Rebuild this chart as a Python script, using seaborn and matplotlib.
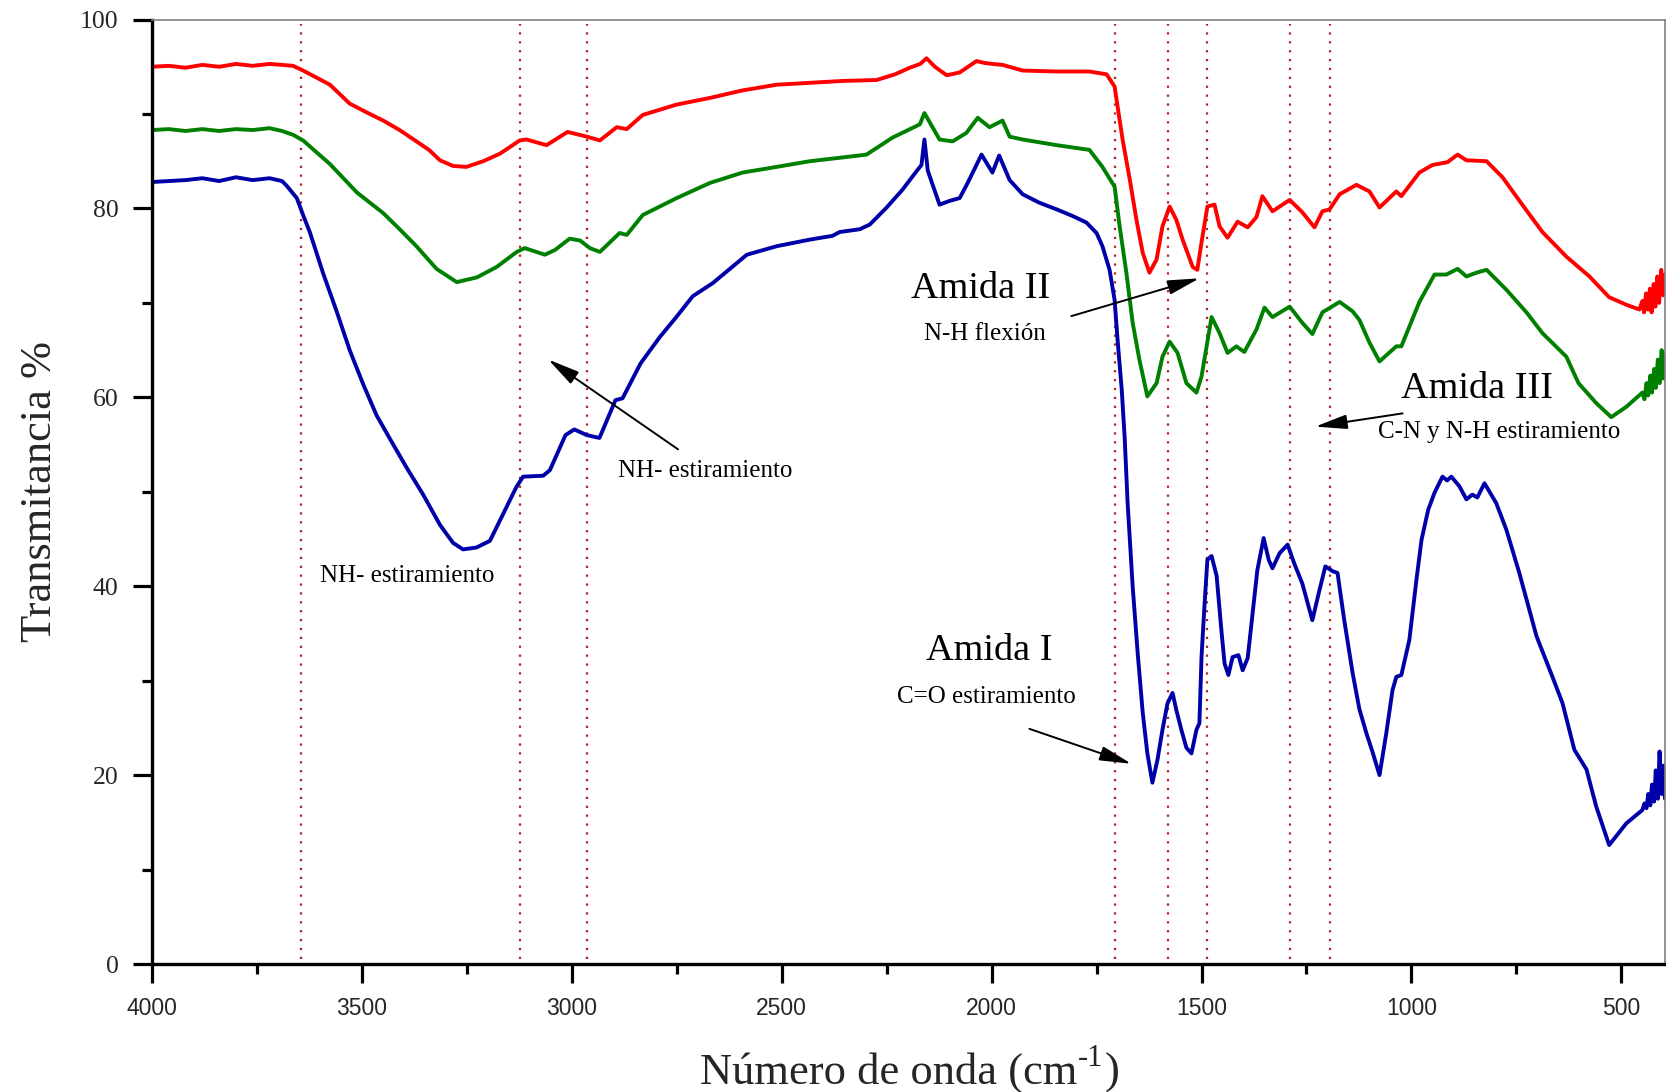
import matplotlib
matplotlib.use("Agg")
import matplotlib.pyplot as plt
import numpy as np
import pandas as pd
import seaborn as sns
from matplotlib.ticker import MultipleLocator

# ---- Espectros FTIR (número de onda en cm-1, transmitancia en %) ----
wn_rojo = [4000, 3960, 3920, 3880, 3840, 3800, 3760, 3720, 3690, 3664, 3640, 3610, 3576, 3529,
           3490, 3449, 3410, 3370, 3340, 3314, 3283, 3251, 3211, 3171, 3124, 3108, 3060, 3010,
           2964, 2933, 2893, 2869, 2831, 2750, 2671, 2593, 2512, 2433, 2355, 2274, 2230, 2195,
           2170, 2155, 2135, 2107, 2076, 2036, 2016, 1998, 1974, 1926, 1845, 1767, 1726, 1707,
           1688, 1671, 1655, 1640, 1624, 1607, 1593, 1576, 1560, 1545, 1521, 1510, 1500, 1486,
           1469, 1457, 1438, 1414, 1390, 1369, 1355, 1331, 1290, 1260, 1231, 1212, 1195, 1171,
           1131, 1100, 1076, 1036, 1024, 981, 950, 914, 890, 869, 821, 783, 736, 688, 631, 576,
           529, 488, 457, 450, 446, 441, 437, 432, 428, 423, 419, 414, 410, 405, 400, 396]
t_rojo = [95.0, 95.1, 94.9, 95.2, 95.0, 95.3, 95.1, 95.3, 95.2, 95.1, 94.6, 93.9, 93.1, 91.1,
          90.2, 89.3, 88.3, 87.1, 86.2, 85.1, 84.5, 84.4, 85.0, 85.8, 87.2, 87.3, 86.7, 88.1,
          87.6, 87.2, 88.6, 88.4, 89.9, 91.0, 91.7, 92.5, 93.1, 93.3, 93.5, 93.6, 94.2, 94.9,
          95.3, 95.9, 95.0, 94.1, 94.4, 95.6, 95.4, 95.3, 95.2, 94.6, 94.5, 94.5, 94.2, 92.9,
          87.3, 83.1, 78.8, 75.3, 73.2, 74.6, 78.1, 80.2, 78.8, 76.7, 73.8, 73.5, 76.4, 80.2,
          80.4, 78.1, 76.9, 78.6, 78.0, 79.1, 81.3, 79.7, 80.9, 79.6, 78.0, 79.7, 79.9, 81.5,
          82.5, 81.8, 80.1, 81.8, 81.3, 83.8, 84.6, 84.9, 85.7, 85.1, 85.0, 83.3, 80.4, 77.5,
          74.9, 72.8, 70.6, 69.8, 69.3, 70.2, 69.0, 71.0, 69.3, 71.5, 69.0, 72.0, 69.6, 72.8,
          70.0, 73.5, 70.8, 73.0]

wn_verde = [4000, 3960, 3920, 3880, 3840, 3800, 3760, 3720, 3690, 3664, 3640, 3576, 3512, 3449,
            3410, 3370, 3322, 3274, 3226, 3179, 3131, 3112, 3064, 3040, 3005, 2980, 2957, 2933,
            2886, 2869, 2831, 2750, 2671, 2593, 2512, 2433, 2355, 2298, 2236, 2171, 2160, 2124,
            2093, 2060, 2033, 2005, 1974, 1957, 1926, 1845, 1767, 1736, 1707, 1695, 1679, 1664,
            1648, 1629, 1607, 1593, 1576, 1557, 1536, 1512, 1500, 1476, 1457, 1438, 1417, 1398,
            1369, 1350, 1331, 1290, 1260, 1236, 1212, 1171, 1140, 1124, 1100, 1076, 1036, 1024,
            981, 945, 917, 890, 869, 845, 821, 774, 726, 688, 631, 602, 560, 524, 488, 450, 445,
            440, 436, 431, 427, 422, 418, 413, 409, 404, 400, 396]
t_verde = [88.3, 88.4, 88.2, 88.4, 88.2, 88.4, 88.3, 88.5, 88.2, 87.8, 87.2, 84.7, 81.7, 79.5,
           77.8, 76.0, 73.6, 72.2, 72.7, 73.8, 75.4, 75.8, 75.1, 75.6, 76.8, 76.6, 75.8, 75.4,
           77.4, 77.2, 79.3, 81.1, 82.7, 83.8, 84.4, 85.0, 85.4, 85.7, 87.5, 88.9, 90.1, 87.3,
           87.1, 88.0, 89.6, 88.6, 89.3, 87.6, 87.3, 86.7, 86.2, 84.4, 82.3, 78.1, 73.2, 67.9,
           64.0, 60.1, 61.5, 64.3, 65.9, 64.7, 61.5, 60.5, 62.2, 68.5, 66.8, 64.7, 65.4, 64.8,
           67.2, 69.5, 68.5, 69.6, 67.9, 66.7, 69.0, 70.1, 69.1, 68.2, 65.8, 63.8, 65.4, 65.4,
           70.1, 73.0, 73.0, 73.6, 72.8, 73.2, 73.5, 71.4, 69.0, 66.8, 64.3, 61.5, 59.4, 57.9,
           59.0, 60.5, 59.8, 61.5, 60.2, 62.3, 60.5, 63.0, 61.0, 64.0, 61.5, 65.0, 62.0, 64.5]

wn_azul = [4000, 3960, 3920, 3880, 3840, 3800, 3760, 3720, 3690, 3679, 3655, 3640, 3624, 3592,
           3560, 3529, 3497, 3465, 3433, 3394, 3354, 3314, 3283, 3259, 3227, 3195, 3164, 3132,
           3116, 3068, 3052, 3015, 2994, 2964, 2934, 2896, 2879, 2836, 2790, 2751, 2712, 2664,
           2583, 2512, 2433, 2379, 2362, 2314, 2290, 2250, 2212, 2176, 2167, 2160, 2152, 2124,
           2100, 2076, 2057, 2024, 1998, 1982, 1957, 1926, 1886, 1845, 1807, 1774, 1750, 1736,
           1719, 1707, 1700, 1690, 1683, 1676, 1664, 1652, 1640, 1629, 1617, 1605, 1593, 1581,
           1569, 1560, 1548, 1536, 1524, 1512, 1505, 1500, 1493, 1486, 1476, 1464, 1452, 1445,
           1436, 1426, 1412, 1402, 1390, 1379, 1367, 1352, 1340, 1331, 1314, 1295, 1279, 1260,
           1236, 1219, 1205, 1188, 1176, 1160, 1140, 1124, 1107, 1093, 1076, 1060, 1045, 1036,
           1024, 1005, 988, 976, 960, 945, 926, 915, 905, 886, 869, 855, 843, 826, 798, 774,
           743, 702, 664, 640, 612, 583, 560, 529, 488, 450, 445, 440, 436, 431, 427, 422, 418,
           413, 409, 404, 400, 396]
t_azul = [82.8, 82.9, 83.0, 83.2, 82.9, 83.3, 83.0, 83.2, 82.9, 82.4, 81.1, 79.3, 77.5, 73.1,
          69.1, 65.0, 61.4, 58.1, 55.6, 52.6, 49.7, 46.5, 44.6, 43.9, 44.1, 44.8, 47.6, 50.5,
          51.6, 51.7, 52.3, 56.0, 56.6, 56.0, 55.7, 59.7, 59.9, 63.6, 66.4, 68.5, 70.7, 72.1,
          75.1, 76.0, 76.7, 77.1, 77.5, 77.8, 78.3, 80.1, 82.0, 84.1, 84.6, 87.3, 84.0, 80.4,
          80.8, 81.1, 82.7, 85.7, 83.8, 85.6, 83.0, 81.5, 80.6, 79.9, 79.2, 78.5, 77.4, 76.0,
          73.5, 70.3, 66.1, 60.8, 55.7, 48.8, 40.0, 32.9, 26.6, 22.3, 19.2, 21.6, 24.8, 27.6,
          28.7, 26.9, 24.8, 22.9, 22.3, 24.8, 25.5, 32.5, 37.9, 42.8, 43.2, 41.1, 35.0, 31.8,
          30.6, 32.5, 32.7, 31.1, 32.4, 36.8, 41.7, 45.1, 42.8, 41.9, 43.5, 44.4, 42.4, 40.3,
          36.4, 39.6, 42.1, 41.6, 41.4, 36.4, 30.8, 27.0, 24.4, 22.5, 20.0, 24.4, 29.0, 30.4,
          30.6, 34.3, 40.7, 44.9, 48.1, 49.9, 51.6, 51.2, 51.6, 50.6, 49.2, 49.7, 49.4, 50.9,
          48.8, 46.0, 41.4, 34.7, 30.4, 27.6, 22.7, 20.6, 16.7, 12.6, 14.9, 16.3, 17.0, 16.5,
          18.0, 16.8, 19.0, 17.2, 20.5, 17.5, 22.5, 18.0, 21.0, 17.5]

# Bandas marcadas con líneas punteadas (cm-1)
bandas = [3645, 3124, 2964, 1705, 1579, 1486, 1290, 1195]

x_ticks = [4000, 3500, 3000, 2500, 2000, 1500, 1000, 500]
y_ticks = [0, 20, 40, 60, 80, 100]

df = pd.concat([
    pd.DataFrame({"numero_onda": wn_rojo, "transmitancia": t_rojo, "muestra": "rojo"}),
    pd.DataFrame({"numero_onda": wn_verde, "transmitancia": t_verde, "muestra": "verde"}),
    pd.DataFrame({"numero_onda": wn_azul, "transmitancia": t_azul, "muestra": "azul"}),
], ignore_index=True)

sns.set_style("ticks")
plt.rcParams["font.family"] = ["Liberation Serif", "DejaVu Serif"]

fig = plt.figure(figsize=(16.66, 10.92), dpi=100)
ax = fig.add_axes([0.0912, 0.1172, 0.9082, 0.8649])

sns.lineplot(data=df, x="numero_onda", y="transmitancia", hue="muestra",
             palette={"rojo": "#FF0000", "verde": "#008000", "azul": "#0000A8"},
             estimator=None, legend=False, linewidth=2.8, ax=ax)

ax.vlines(bandas, 0.5, 99.5, colors="#B22222", linestyles=(0, (1, 3)), linewidth=1.6, zorder=1)

ax.set_xlim(4000, 396)
ax.set_ylim(0, 100)

ax.set_xticks(x_ticks)
ax.set_xticklabels([str(t) for t in x_ticks], fontfamily="Liberation Sans", fontsize=16.5)
ax.xaxis.set_minor_locator(MultipleLocator(250))
ax.set_yticks(y_ticks)
ax.set_yticklabels([str(t) for t in y_ticks], fontsize=18.5)
ax.yaxis.set_minor_locator(MultipleLocator(10))

ax.tick_params(axis="both", which="major", direction="out", length=14, width=2.3,
               top=False, right=False, color="black")
ax.tick_params(axis="both", which="minor", direction="out", length=7, width=2.3,
               top=False, right=False, color="black")
ax.tick_params(axis="x", which="major", pad=10)
ax.tick_params(axis="y", which="major", pad=10)

for s in ["left", "bottom"]:
    ax.spines[s].set_linewidth(2.4)
    ax.spines[s].set_color("black")
for s in ["top", "right"]:
    ax.spines[s].set_linewidth(1.2)
    ax.spines[s].set_color("#7f7f7f")

# Etiqueta del eje x: texto principal + exponente "-1" elevado
ax.set_xlabel("")
xl = ax.text(0.5, -0.126, "Número de onda (cm", transform=ax.transAxes,
             fontsize=32, ha="right", va="baseline")
fig.canvas.draw()
renderer = fig.canvas.get_renderer()
bb = xl.get_window_extent(renderer)
ancho_total = bb.width
sup = ax.text(0, 0, "-1", fontsize=22, ha="left", va="baseline")
sup_bb = sup.get_window_extent(renderer)
cierre = ax.text(0, 0, ")", fontsize=32, ha="left", va="baseline")
cierre_bb = cierre.get_window_extent(renderer)
ancho = bb.width + sup_bb.width + cierre_bb.width
inv = ax.transAxes.inverted()
x0_px = ax.transAxes.transform((0.5, 0))[0] - ancho / 2
y_base_px = ax.transAxes.transform((0, -0.126))[1]
xl.set_position(inv.transform((x0_px + bb.width, y_base_px)))
sup.set_transform(ax.transAxes)
sup.set_position(inv.transform((x0_px + bb.width + 1, y_base_px + 17)))
cierre.set_transform(ax.transAxes)
cierre.set_position(inv.transform((x0_px + bb.width + sup_bb.width + 2, y_base_px)))

ax.set_ylabel("Transmitancia %", fontsize=32)
ax.yaxis.set_label_coords(-0.0668, 0.5)
ax.yaxis.label.set_va("baseline")

# Anotaciones de las bandas
textos = [
    ("Amida I", 2005, 32.2, 27.5),
    ("C=O estiramiento", 2012, 27.6, 18),
    ("Amida II", 2027, 70.5, 27.5),
    ("N-H flexión", 2016, 66.1, 18),
    ("Amida III", 844, 59.9, 27.5),
    ("C-N y N-H estiramiento", 792, 55.7, 18),
    ("NH- estiramiento", 2683, 51.6, 18),
    ("NH- estiramiento", 3391, 40.4, 18),
]
for txt, x, y, fs in textos:
    ax.text(x, y, txt, fontsize=fs, ha="center", va="baseline", color="black")

flechas = [
    ((1910, 24.9), (1667, 21.2)),
    ((1810, 68.6), (1505, 72.6)),
    ((1021, 58.3), (1229, 56.9)),
    ((2747, 54.5), (3056, 64.0)),
]
for cola, punta in flechas:
    ax.annotate("", xy=punta, xytext=cola,
                arrowprops=dict(arrowstyle="-|>,head_length=0.75,head_width=0.17",
                                color="black", lw=1.4, mutation_scale=26,
                                shrinkA=0, shrinkB=0))

fig.savefig("out.png", dpi=100)
